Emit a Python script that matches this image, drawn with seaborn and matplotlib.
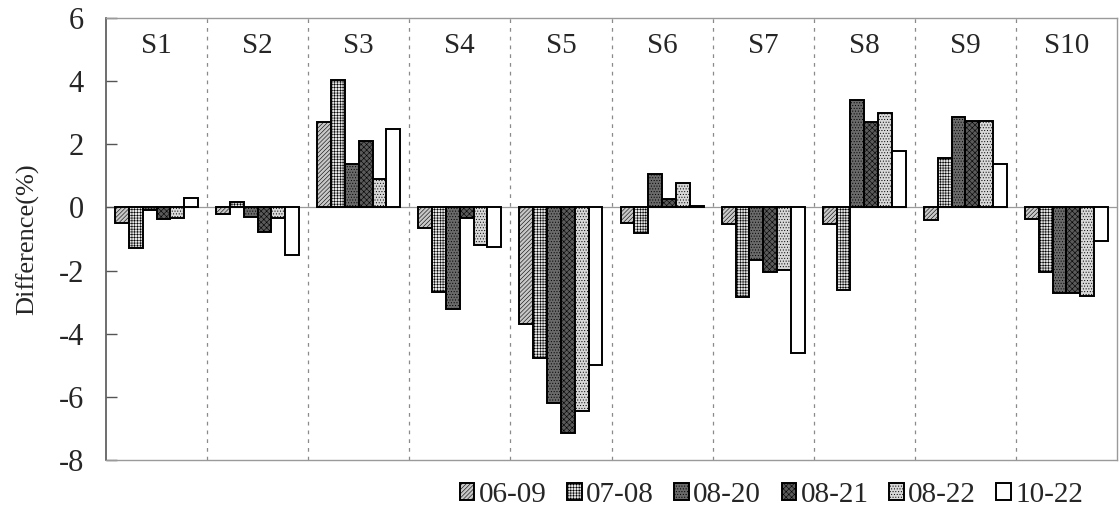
import numpy as np
import pandas as pd
import matplotlib
matplotlib.use("Agg")
import matplotlib.pyplot as plt
from matplotlib.font_manager import FontProperties
import seaborn as sns

sites = ["S1", "S2", "S3", "S4", "S5", "S6", "S7", "S8", "S9", "S10"]
series = ["06-09", "07-08", "08-20", "08-21", "08-22", "10-22"]

v_06_09 = [-0.50, -0.20, 2.71, -0.64, -3.70, -0.50, -0.52, -0.52, -0.41, -0.36]
v_07_08 = [-1.29, 0.16, 4.03, -2.69, -4.78, -0.80, -2.84, -2.60, 1.57, -2.06]
v_08_20 = [-0.08, -0.30, 1.39, -3.22, -6.20, 1.06, -1.65, 3.40, 2.86, -2.72]
v_08_21 = [-0.38, -0.77, 2.10, -0.34, -7.13, 0.26, -2.04, 2.71, 2.74, -2.72]
v_08_22 = [-0.33, -0.35, 0.90, -1.18, -6.44, 0.78, -1.99, 3.00, 2.74, -2.79]
v_10_22 = [0.30, -1.50, 2.48, -1.26, -5.00, 0.05, -4.62, 1.80, 1.39, -1.06]

yticks = [-8, -6, -4, -2, 0, 2, 4, 6]

values = [v_06_09, v_07_08, v_08_20, v_08_21, v_08_22, v_10_22]
df = pd.DataFrame({
    "site": [s for _ in series for s in sites],
    "series": [sr for sr in series for _ in sites],
    "value": [v for vals in values for v in vals],
})

sns.set_theme(style="white")
plt.rcParams["font.family"] = ["Liberation Serif", "DejaVu Serif"]
plt.rcParams["hatch.linewidth"] = 0.4

faces = ["#c8c8c8", "#e4e4e4", "#6a6a6a", "#5a5a5a", "#d8d8d8", "#ffffff"]
hatches = ["////////", "++++++", "......", "xxxxxx", "......", ""]
hcolors = ["#808080", "#808080", "#505050", "#262626", "#a0a0a0", "#000000"]

fig = plt.figure(figsize=(11.2, 5.13), dpi=100)
ax = fig.add_axes([106 / 1120, 1 - 460 / 513, (1117 - 106) / 1120, (460 - 18) / 513])

sns.barplot(data=df, x="site", y="value", hue="series", order=sites,
            hue_order=series, palette=faces, width=0.82, ax=ax,
            edgecolor="black", linewidth=1.4, errorbar=None, legend=True)

for cont, h, hc in zip(ax.containers, hatches, hcolors):
    for p in cont.patches:
        p.set_hatch(h)
        if hasattr(p, "set_hatchcolor"):
            p.set_hatchcolor(hc)

ax.set_ylim(-8, 6)
ax.set_xlim(-0.5, len(sites) - 0.5)
ax.set_yticks(yticks)
ax.set_yticklabels([str(t) for t in yticks], fontsize=22)
ax.set_xticks([])
ax.set_xlabel("")
ax.set_ylabel("Difference(%)", fontsize=19, labelpad=14)
ax.tick_params(axis="y", direction="in", length=8, width=1, color="#555555", pad=16, left=True)

for i in range(len(sites) - 1):
    ax.axvline(i + 0.5, color="#8a8a8a", linestyle=(0, (3, 4)), linewidth=0.9, zorder=0)
ax.axhline(0, color="#9a9a9a", linewidth=0.9, zorder=0)

for i, s in enumerate(sites):
    ax.text(i, 5.1, s, ha="center", va="center", fontsize=21)

for side in ["top", "right", "bottom"]:
    ax.spines[side].set_color("#9a9a9a")
    ax.spines[side].set_linewidth(1.0)
ax.spines["left"].set_color("#555555")
ax.spines["left"].set_linewidth(1.2)

handles, labels = ax.get_legend_handles_labels()
ax.legend_.remove()
for hnd, h, hc in zip(handles, hatches, hcolors):
    hnd.set_hatch(h)
    if hasattr(hnd, "set_hatchcolor"):
        hnd.set_hatchcolor(hc)
fig.legend(handles, labels, loc="center right", bbox_to_anchor=(0.98, 0.035),
           ncol=6, frameon=False, prop=FontProperties(family="Liberation Serif", size=21),
           handlelength=0.5, handleheight=0.5,
           handletextpad=0.15, columnspacing=0.7, borderpad=0)

fig.savefig("out.png", dpi=100)
